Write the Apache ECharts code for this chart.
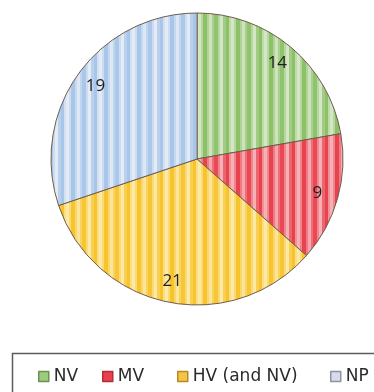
<!DOCTYPE html>
<html>
<head>
<meta charset="utf-8">
<script src="https://cdn.jsdelivr.net/npm/echarts@6/dist/echarts.min.js"></script>
<style>
  html, body { margin: 0; padding: 0; background: #ffffff; }
  #chart { width: 374px; height: 392px; }
</style>
</head>
<body>
<div id="chart"></div>
<script>
// Categories and counts, clockwise from 12 o'clock
const categories = ['NV', 'MV', 'HV (and NV)', 'NP'];
const counts = [14, 9, 21, 19];

// Dark / light tones used for the vertical stripe fills
const darkTones = ['#8cc168', '#e8424f', '#f7c42e', '#a8c6ea'];
const lightTones = ['#d4e6c6', '#f5b2b6', '#fde9a6', '#e4ebf5'];
const legendTones = ['#9ccb7c', '#e8424f', '#f5c444', '#d5dcea'];
const legendBorders = ['#6f8f55', '#b03038', '#b88a20', '#8d93a3'];
// Left edge of each legend entry, spread across the box
const legendLefts = [33, 97, 172, 325];

function mix(a, b, t) {
  const pa = parseInt(a.slice(1), 16), pb = parseInt(b.slice(1), 16);
  const ch = (p, s) => (p >> s) & 255;
  const r = Math.round(ch(pa, 16) * (1 - t) + ch(pb, 16) * t);
  const g = Math.round(ch(pa, 8) * (1 - t) + ch(pb, 8) * t);
  const bl = Math.round(ch(pa, 0) * (1 - t) + ch(pb, 0) * t);
  return 'rgb(' + r + ',' + g + ',' + bl + ')';
}

// Vertical stripe tile: sequence of [width, darkness]
const stripeBands = [[3, 0], [2, 0.4], [4, 1], [2, 0.5], [3, 0.1], [2, 0.6], [4, 0.95], [2, 0.4], [3, 0], [3, 0.7], [3, 1], [2, 0.3]];

function stripeTile(dark, light) {
  const w = stripeBands.reduce((s, b) => s + b[0], 0);
  const cv = document.createElement('canvas');
  cv.width = w; cv.height = 4;
  const ctx = cv.getContext('2d');
  let x = 0;
  stripeBands.forEach(([bw, t]) => {
    ctx.fillStyle = mix(light, dark, t);
    ctx.fillRect(x, 0, bw, 4);
    x += bw;
  });
  return cv;
}

const chart = echarts.init(document.getElementById('chart'), null, { renderer: 'canvas' });

const pieData = categories.map((name, i) => ({
  name: name,
  value: counts[i],
  itemStyle: { color: { image: stripeTile(darkTones[i], lightTones[i]), repeat: 'repeat' } }
}));

const labelData = categories.map((name, i) => ({ name: name, value: counts[i] }));

const legends = categories.map((name, i) => ({
  left: legendLefts[i],
  top: 363,
  itemWidth: 10,
  itemHeight: 10,
  icon: 'rect',
  selectedMode: false,
  textStyle: { fontFamily: 'DejaVu Sans', fontSize: 17, color: '#2a2a2a' },
  data: [{
    name: name,
    itemStyle: { color: legendTones[i], borderColor: legendBorders[i], borderWidth: 1.5 }
  }]
}));

chart.setOption({
  animation: false,
  backgroundColor: '#ffffff',
  legend: legends,
  graphic: [{
    type: 'rect',
    shape: { x: 12.5, y: 353.5, width: 420, height: 80 },
    style: { fill: 'none', stroke: '#5c5c5c', lineWidth: 1.5 },
    silent: true
  }],
  series: [
    {
      type: 'pie',
      center: [197, 159],
      radius: [0, 146],
      startAngle: 90,
      clockwise: true,
      silent: true,
      label: { show: false },
      labelLine: { show: false },
      itemStyle: { borderColor: '#6e5d4f', borderWidth: 1 },
      data: pieData
    },
    {
      type: 'pie',
      center: [197, 159],
      radius: [98, 146],
      startAngle: 90,
      clockwise: true,
      silent: true,
      itemStyle: { color: 'rgba(0,0,0,0)', borderWidth: 0 },
      label: {
        show: true,
        position: 'inside',
        formatter: '{c}',
        fontFamily: 'Open Sans',
        fontSize: 17,
        color: '#1e1e1e'
      },
      labelLine: { show: false },
      data: labelData
    }
  ]
});
</script>
</body>
</html>
